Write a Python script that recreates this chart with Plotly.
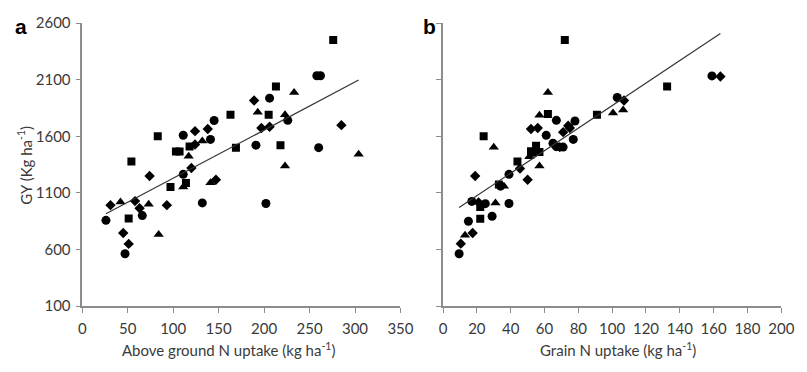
import numpy as np
import plotly.graph_objects as go

# ---------------- Panel a: above ground N uptake vs GY ----------------
a_circle_x = [111, 145, 141, 258, 262, 206, 226, 191, 260, 132, 202, 111, 26, 66, 47]
a_circle_y = [1610, 1740, 1573, 2135, 2135, 1937, 1741, 1522, 1500, 1012, 1007, 1264, 858, 900, 563]
a_square_x = [54, 83, 103, 107, 276, 213, 163, 205, 169, 218, 97, 114, 51, 118]
a_square_y = [1377, 1600, 1465, 1465, 2450, 2040, 1791, 1791, 1500, 1522, 1152, 1188, 875, 1510]
a_triangle_x = [117, 132, 233, 193, 223, 304, 223, 141, 111, 42, 73, 84]
a_triangle_y = [1425, 1558, 1987, 1812, 1791, 1441, 1337, 1190, 1152, 1020, 1000, 732]
a_diamond_x = [124, 138, 120, 189, 197, 206, 285, 147, 74, 31, 58, 93, 63, 45, 51, 124]
a_diamond_y = [1646, 1665, 1320, 1917, 1674, 1685, 1699, 1217, 1250, 992, 1028, 992, 965, 746, 650, 1528]

# ---------------- Panel b: grain N uptake vs GY ----------------
b_circle_x = [159, 103, 67, 78, 61, 77, 65, 67, 71, 39, 34, 17, 25, 39, 15, 29, 9.5]
b_circle_y = [2134, 1943, 1741, 1735, 1609, 1573, 1539, 1509, 1505, 1264, 1160, 1025, 1005, 1007, 850, 894, 563]
b_square_x = [72, 62, 24, 132.5, 91, 55, 52, 53, 57, 44, 33, 22, 22]
b_square_y = [2450, 1797, 1600, 2041, 1791, 1516, 1469, 1455, 1461, 1377, 1175, 975, 873]
b_triangle_x = [62, 57, 30, 51, 57, 100.5, 106.5, 36, 31, 13]
b_triangle_y = [1987, 1786, 1503, 1419, 1337, 1806, 1833, 1160, 1010, 726]
b_diamond_x = [164, 107, 74, 75, 52, 56, 71, 69, 45.5, 19, 50, 21, 17.5, 10.5]
b_diamond_y = [2128, 1917, 1693, 1674, 1665, 1674, 1637, 1505, 1315, 1250, 1217, 1015, 746, 652]

a_xticks = [0, 50, 100, 150, 200, 250, 300, 350]
b_xticks = [0, 20, 40, 60, 80, 100, 120, 140, 160, 180, 200]
y_ticks = [100, 600, 1100, 1600, 2100, 2600]

W, H = 807, 372
fig = go.Figure()

symbols = [("circle", 9), ("square", 8), ("triangle-up", 9), ("diamond", 8)]


def add_panel(groups, xa, ya):
    allx, ally = [], []
    for (sym, sz), (xs, ys) in zip(symbols, groups):
        fig.add_trace(go.Scatter(x=xs, y=ys, mode="markers", xaxis=xa, yaxis=ya,
                                 marker=dict(symbol=sym, size=sz, color="black",
                                             line=dict(width=0)),
                                 showlegend=False, hoverinfo="skip"))
        allx += list(xs)
        ally += list(ys)
    allx = np.array(allx, float)
    ally = np.array(ally, float)
    k, b = np.polyfit(allx, ally, 1)
    lx = np.array([allx.min(), allx.max()])
    fig.add_trace(go.Scatter(x=lx, y=k * lx + b, mode="lines", xaxis=xa, yaxis=ya,
                             line=dict(color="#333333", width=1.2),
                             showlegend=False, hoverinfo="skip"))


add_panel([(a_circle_x, a_circle_y), (a_square_x, a_square_y),
           (a_triangle_x, a_triangle_y), (a_diamond_x, a_diamond_y)], "x", "y")
add_panel([(b_circle_x, b_circle_y), (b_square_x, b_square_y),
           (b_triangle_x, b_triangle_y), (b_diamond_x, b_diamond_y)], "x2", "y2")

tickfont = dict(family="Lato, Open Sans, sans-serif", size=15, color="#3a3a3a")
axcommon = dict(showline=True, linecolor="#8c8c8c", linewidth=1.5, ticks="outside",
                ticklen=5, tickcolor="#8c8c8c", tickwidth=1.2, showgrid=False,
                zeroline=False, tickfont=tickfont)

ytop = 1 - 13.8 / H
ybot = 1 - 311.2 / H

fig.update_layout(
    width=W, height=H, margin=dict(l=0, r=0, t=0, b=0),
    plot_bgcolor="white", paper_bgcolor="white",
    xaxis=dict(domain=[80 / W, 405 / W], range=[0, 350], tickvals=a_xticks,
               anchor="y", ticklabelstandoff=3, **axcommon),
    yaxis=dict(domain=[ybot, ytop], range=[100, 2600], tickvals=y_ticks,
               anchor="x", ticklabelstandoff=2, **axcommon),
    xaxis2=dict(domain=[448.5 / W, 794 / W], range=[0, 200], tickvals=b_xticks,
                anchor="y2", ticklabelstandoff=3, **axcommon),
    yaxis2=dict(domain=[ybot, ytop], range=[100, 2600], tickvals=y_ticks,
                showticklabels=False, anchor="x2", **axcommon),
)

titlefont = dict(family="Lato, Open Sans, sans-serif", size=15, color="#3a3a3a")
fig.add_annotation(text="Above ground N uptake (kg ha<sup>-1</sup>)", xref="paper", yref="paper",
                   x=229 / W, y=1 - 357 / H, showarrow=False, font=titlefont,
                   xanchor="center", yanchor="middle")
fig.add_annotation(text="Grain N uptake (kg ha<sup>-1</sup>)", xref="paper", yref="paper",
                   x=627 / W, y=1 - 357 / H, showarrow=False, font=titlefont,
                   xanchor="center", yanchor="middle")
fig.add_annotation(text="GY (Kg ha<sup>-1</sup>)", xref="paper", yref="paper",
                   x=21 / W, y=1 - 163 / H, showarrow=False, font=titlefont, textangle=-90,
                   xanchor="center", yanchor="middle")
letterfont = dict(family="Liberation Sans, Arial, sans-serif", size=21, color="black")
fig.add_annotation(text="<b>a</b>", xref="paper", yref="paper", x=9 / W, y=1 - 17 / H,
                   showarrow=False, font=letterfont, xanchor="left", yanchor="middle")
fig.add_annotation(text="<b>b</b>", xref="paper", yref="paper", x=426 / W, y=1 - 17 / H,
                   showarrow=False, font=letterfont, xanchor="left", yanchor="middle")

fig.write_html("out.html")
